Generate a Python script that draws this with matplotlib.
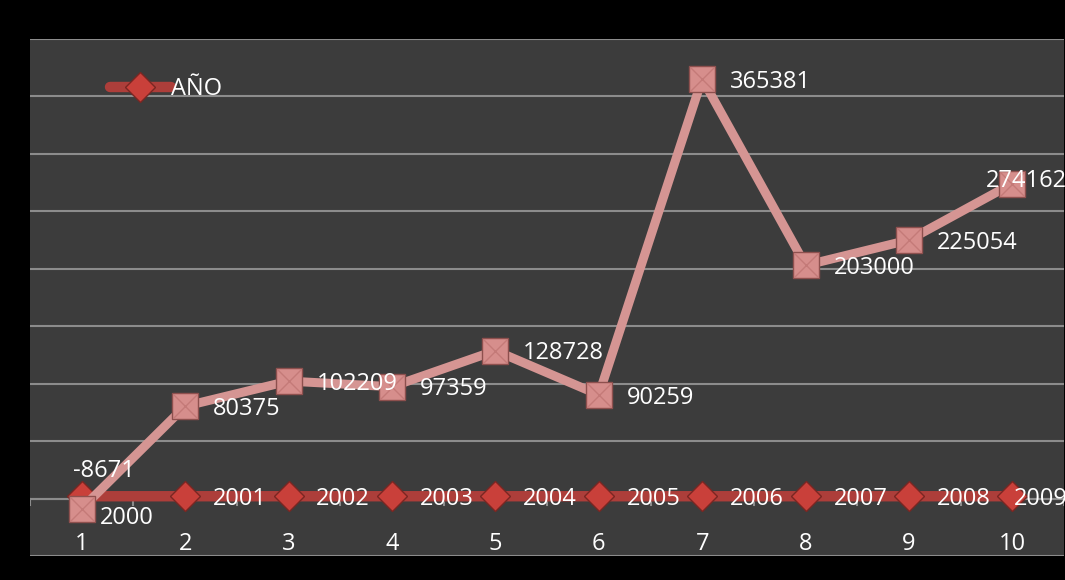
import matplotlib.pyplot as plt
import numpy as np

# Datos
posicion = list(range(1, 11))
anios = [2000, 2001, 2002, 2003, 2004, 2005, 2006, 2007, 2008, 2009]
valores = [-8671, 80375, 102209, 97359, 128728, 90259, 365381, 203000, 225054, 274162]

plt.rcParams['font.family'] = ['Open Sans', 'DejaVu Sans']

fig = plt.figure(figsize=(10.65, 5.8), dpi=100)
fig.patch.set_facecolor('black')
ax = fig.add_axes([0.0282, 0.0414, 0.9710, 0.8914])
ax.set_facecolor('#3c3c3c')

# Serie AÑO (linea roja con rombos)
ax.plot(posicion, anios, color='#ad3e3a', lw=7.5, solid_capstyle='round',
        marker='D', markersize=15.5, markerfacecolor='#c9403a',
        markeredgecolor='#7a2622', markeredgewidth=1.0, label='AÑO', zorder=3)

# Serie de valores (linea rosa con cuadrados)
ax.plot(posicion, valores, color='#d59593', lw=6.5, solid_capstyle='butt',
        marker='s', markersize=18.5, markerfacecolor='#d68e8c',
        markeredgecolor='#8e504e', markeredgewidth=1.0, zorder=4)
ax.plot(posicion, valores, ls='none', marker='x', markersize=17,
        markeredgecolor='#c47a78', markeredgewidth=1.0, zorder=5)

# Etiquetas de datos
for i, (x, v) in enumerate(zip(posicion, valores)):
    if i == 0:
        off, ha = (16, 27), 'center'
    elif i == 9:
        off, ha = (-19, 2), 'left'
    else:
        off, ha = (20, -2), 'left'
    ax.annotate(str(v), (x, v), xytext=off, textcoords='offset points',
                ha=ha, va='center', color='white', fontsize=17, zorder=6)

for i, (x, a) in enumerate(zip(posicion, anios)):
    if i == 0:
        off = (13, -16)
    elif i == 9:
        off = (1, -2)
    else:
        off = (20, -2)
    ax.annotate(str(a), (x, a), xytext=off, textcoords='offset points',
                ha='left', va='center', color='white', fontsize=17, zorder=6)

# Ejes
ax.set_xlim(0.5, 10.5)
ax.set_ylim(-50000, 400000)
ax.set_yticks(np.arange(-50000, 400001, 50000))
ax.yaxis.grid(True, color='#8c8c8c', lw=1.5)
ax.set_axisbelow(True)
ax.tick_params(axis='y', left=False, labelleft=False)
ax.axhline(0, color='#8c8c8c', lw=1.5, zorder=1)

# Etiquetas de categoria dentro del area de trazado
ax.set_xticks(posicion)
ax.tick_params(axis='x', which='major', length=0, pad=-17, labelcolor='white',
               labelsize=17)
for xb in np.arange(0.5, 11, 1):
    ax.plot([xb, xb], [0, -6000], color='#8c8c8c', lw=1.5, zorder=1)

for s in ax.spines.values():
    s.set_visible(False)

leg = ax.legend(loc='upper left', bbox_to_anchor=(0.068, 0.945), frameon=False,
                handlelength=2.6, handletextpad=0.0, borderaxespad=0,
                fontsize=17, labelcolor='white')

fig.savefig('out.png', dpi=100, facecolor=fig.get_facecolor())
